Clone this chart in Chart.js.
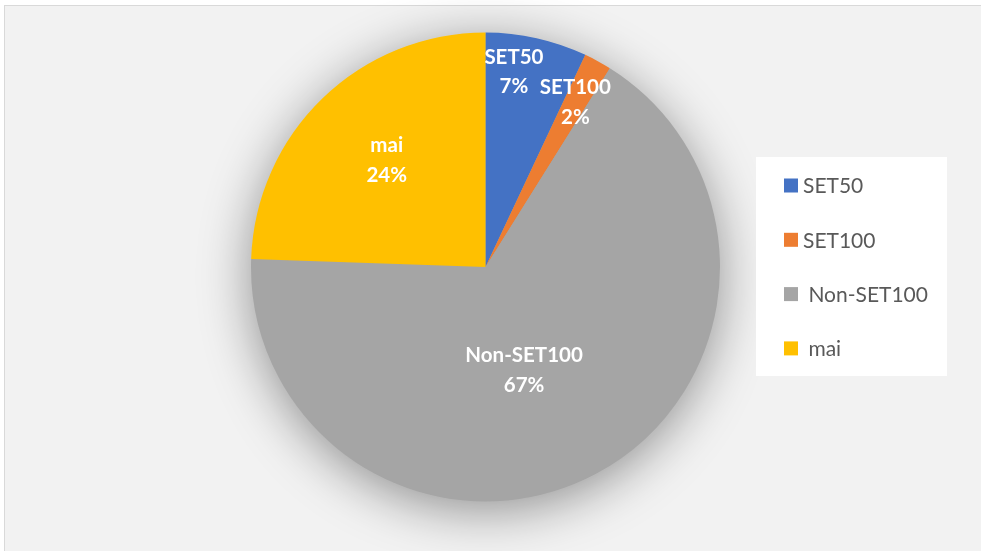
<!DOCTYPE html>
<html>
<head>
<meta charset="utf-8">
<script src="https://cdn.jsdelivr.net/npm/chart.js@4.4.1/dist/chart.umd.min.js"></script>
<style>
  html, body { margin: 0; padding: 0; background: #ffffff; overflow: hidden; }
  .frame {
    position: absolute; left: 4px; top: 5px; width: 990px; height: 560px;
    background: #f2f2f2; border: 1px solid #d9d9d9;
  }
  #pie { position: absolute; left: 0; top: 0; }
</style>
</head>
<body>
<div class="frame"></div>
<canvas id="pie" width="981" height="551"></canvas>
<script>
// data
const categories = ['SET50', 'SET100', ' Non-SET100', ' mai'];
const shares = [7.0, 1.9, 66.65, 24.45];
const sliceColors = ['#4472c4', '#ed7d31', '#a5a5a5', '#ffc000'];

const FONT = 'Lato, "Noto Sans", sans-serif';

// soft drop shadow behind the pie
const pieShadow = {
    id: 'pieShadow',
    beforeDatasetsDraw(chart) {
        const arc = chart.getDatasetMeta(0).data[0];
        if (!arc) return;
        const { x, y, outerRadius } = arc.getProps(['x', 'y', 'outerRadius'], true);
        const ctx = chart.ctx;
        ctx.save();
        ctx.shadowColor = 'rgba(0,0,0,0.42)';
        ctx.shadowBlur = 52;
        ctx.shadowOffsetY = 9;
        ctx.fillStyle = '#a5a5a5';
        ctx.beginPath();
        ctx.arc(x, y, outerRadius - 1, 0, Math.PI * 2);
        ctx.fill();
        ctx.restore();
    }
};

// category + percentage written inside each slice
const sliceLabels = {
    id: 'sliceLabels',
    afterDatasetsDraw(chart, args, opts) {
        const ctx = chart.ctx;
        const meta = chart.getDatasetMeta(0);
        const values = chart.data.datasets[0].data;
        const total = values.reduce((a, b) => a + b, 0);
        ctx.save();
        ctx.fillStyle = '#ffffff';
        ctx.font = 'bold ' + opts.size + 'px ' + FONT;
        ctx.textAlign = 'center';
        ctx.textBaseline = 'middle';
        meta.data.forEach((arc, i) => {
            const p = arc.getProps(['x', 'y', 'startAngle', 'endAngle', 'outerRadius'], true);
            const place = opts.placement[i];
            const mid = (p.startAngle + p.endAngle) / 2 + place.turn * Math.PI / 180;
            const d = p.outerRadius * place.frac;
            const cx = p.x + Math.cos(mid) * d;
            const cy = p.y + Math.sin(mid) * d;
            const pct = Math.round(values[i] / total * 100) + '%';
            ctx.fillText(chart.data.labels[i].trim(), cx, cy - opts.lineGap / 2);
            ctx.fillText(pct, cx, cy + opts.lineGap / 2);
        });
        ctx.restore();
    }
};

// Excel-style legend panel on the right
const sideLegend = {
    id: 'sideLegend',
    afterDraw(chart, args, opts) {
        const ctx = chart.ctx;
        const colors = chart.data.datasets[0].backgroundColor;
        ctx.save();
        ctx.fillStyle = '#ffffff';
        ctx.fillRect(opts.left, opts.top, opts.width, opts.height);
        ctx.font = opts.size + 'px ' + FONT;
        ctx.textBaseline = 'middle';
        ctx.textAlign = 'left';
        chart.data.labels.forEach((label, i) => {
            const cy = opts.firstY + i * opts.step;
            ctx.fillStyle = colors[i];
            ctx.fillRect(opts.left + 28, cy - 7, 14, 14);
            ctx.fillStyle = '#595959';
            ctx.fillText(label, opts.left + 47, cy + 1);
        });
        ctx.restore();
    }
};

new Chart(document.getElementById('pie'), {
    type: 'pie',
    data: {
        labels: categories,
        datasets: [{
            data: shares,
            backgroundColor: sliceColors,
            borderWidth: 0
        }]
    },
    options: {
        responsive: false,
        animation: false,
        rotation: 0,
        layout: {
            padding: { left: 251, right: 261, top: 32, bottom: 49 }
        },
        plugins: {
            legend: { display: false },
            tooltip: { enabled: false },
            sliceLabels: {
                size: 20.5,
                lineGap: 29.5,
                placement: [
                    { frac: 0.84, turn: -4.3 },
                    { frac: 0.80, turn: 0 },
                    { frac: 0.47, turn: 7.5 },
                    { frac: 0.62, turn: 1.2 }
                ]
            },
            sideLegend: {
                left: 756, top: 157, width: 191, height: 219,
                firstY: 185.5, step: 54.3, size: 21
            }
        }
    },
    plugins: [pieShadow, sliceLabels, sideLegend]
});
</script>
</body>
</html>
